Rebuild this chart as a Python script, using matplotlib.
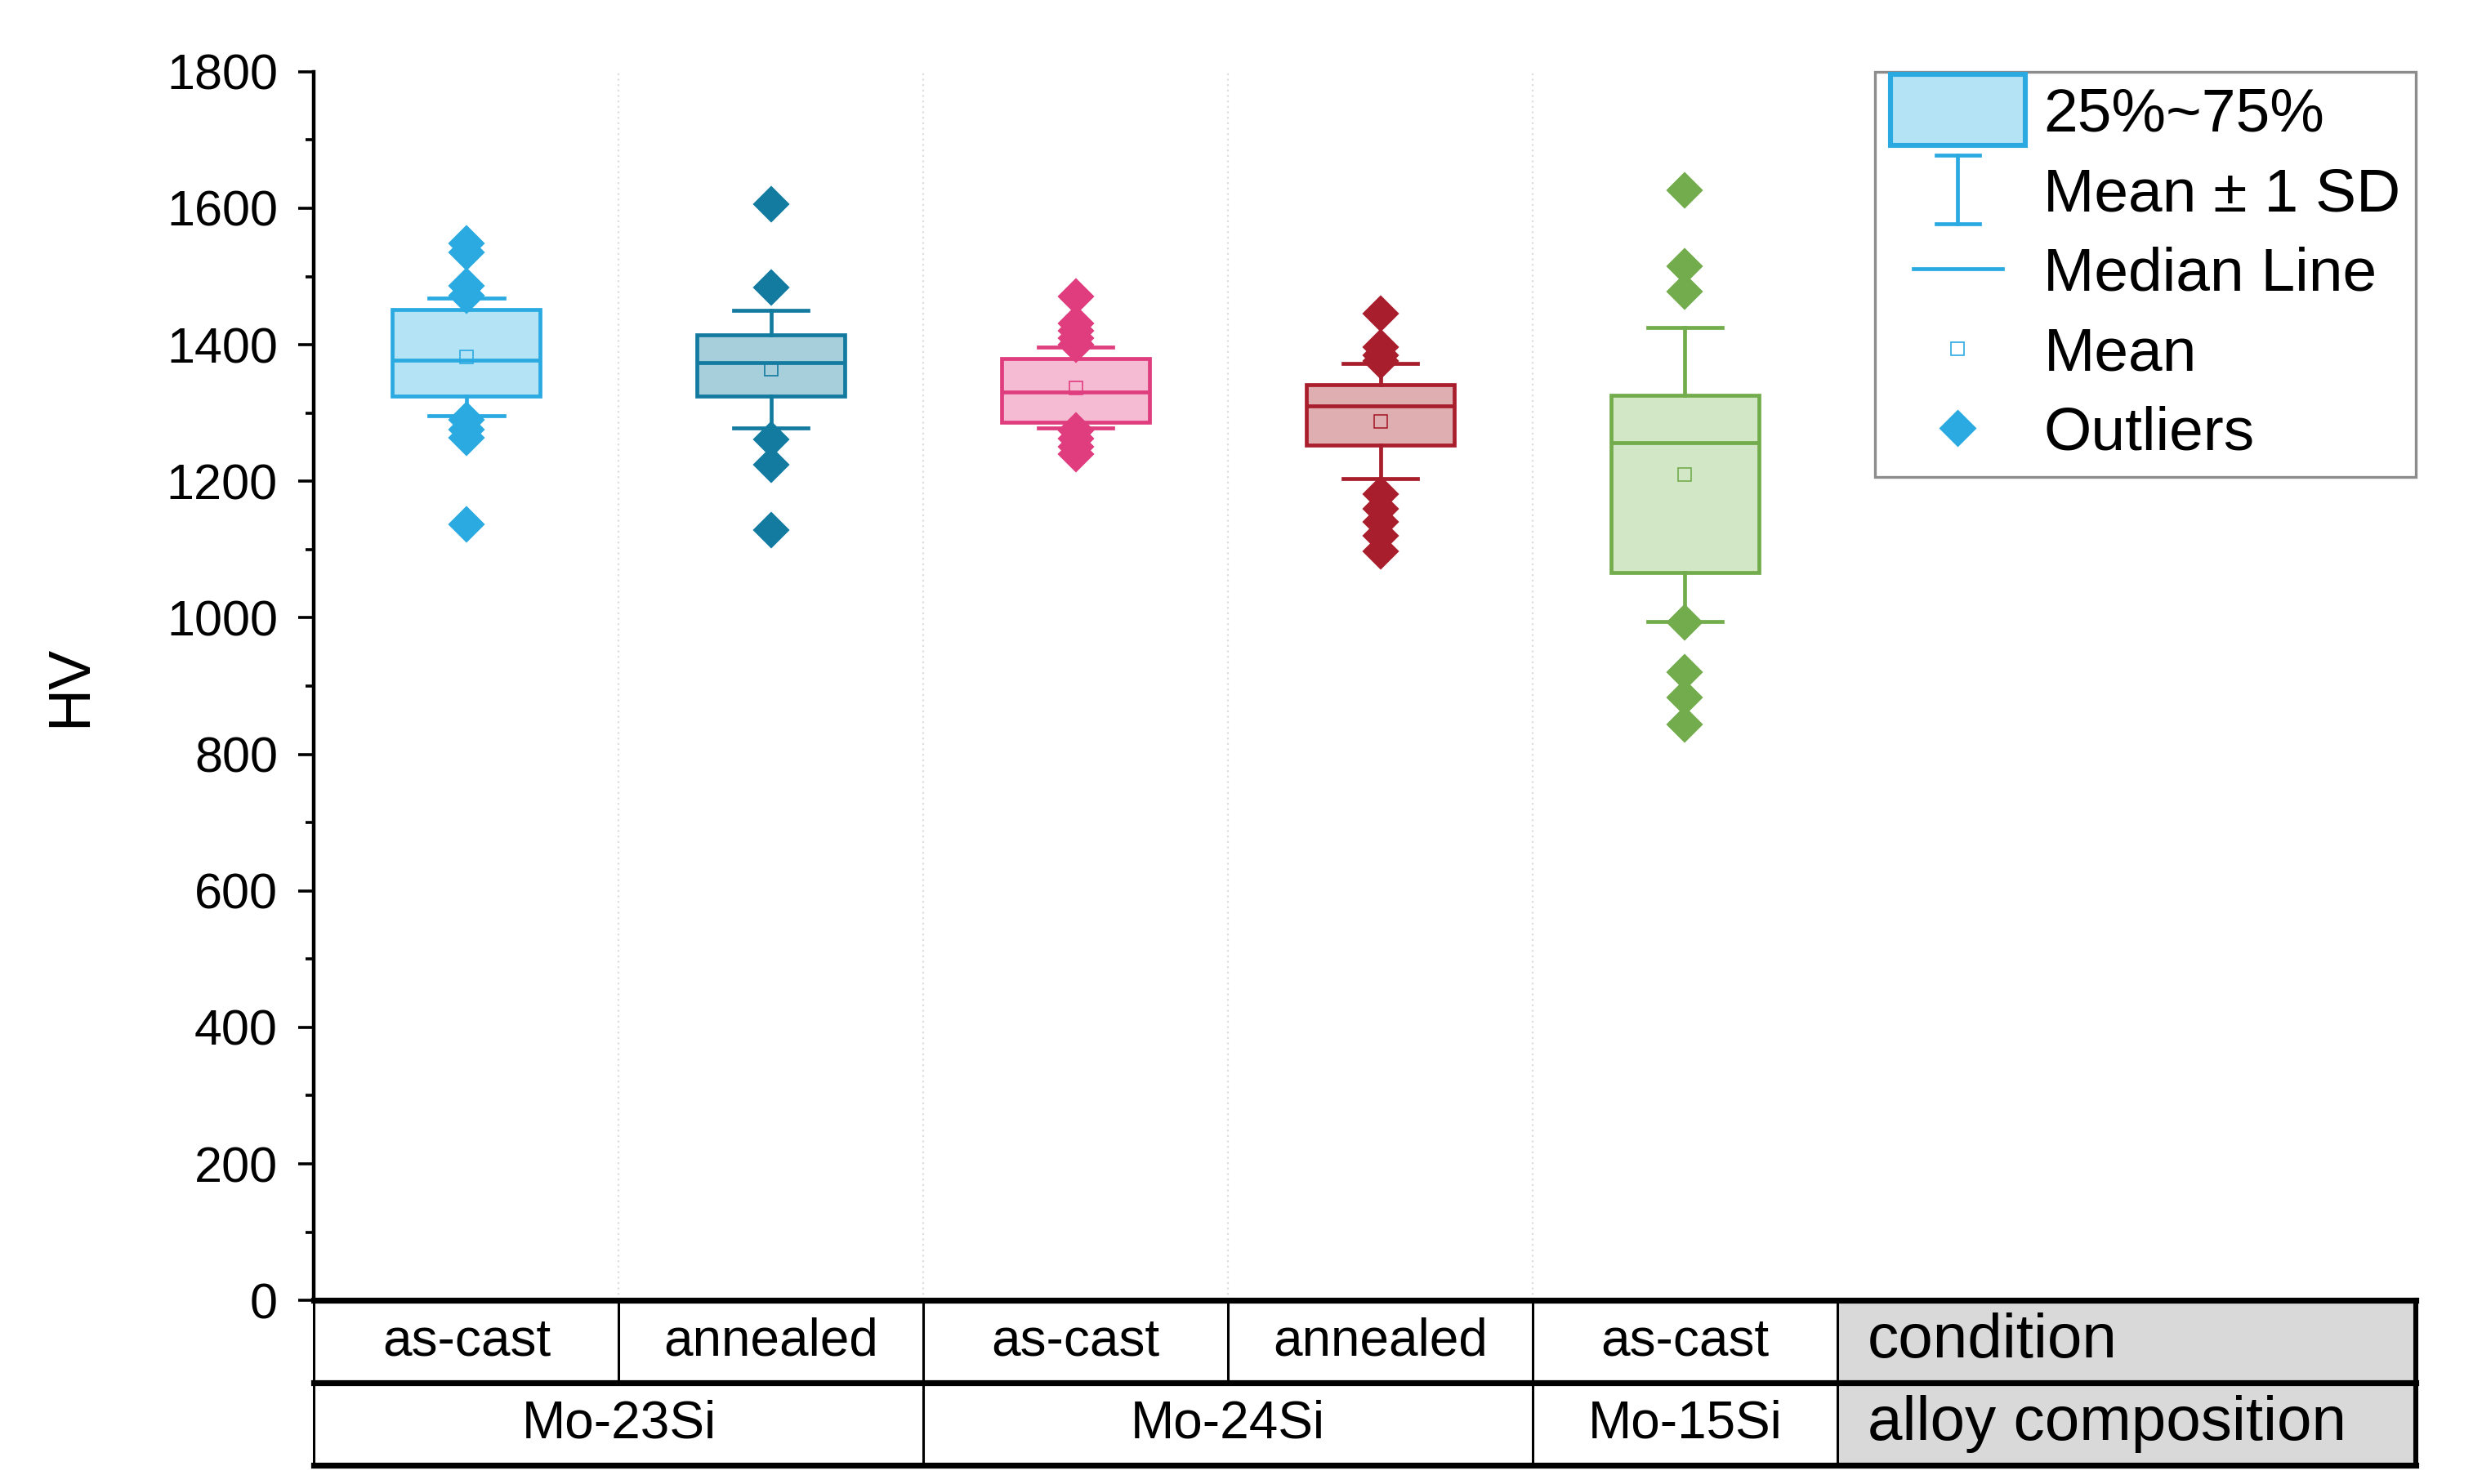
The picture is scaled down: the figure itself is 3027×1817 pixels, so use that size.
import numpy as np
import matplotlib
matplotlib.use("Agg")
import matplotlib.pyplot as plt
from matplotlib.patches import Rectangle
from matplotlib.lines import Line2D
from matplotlib.legend_handler import HandlerBase

plt.rcParams['font.family'] = ['Liberation Sans', 'DejaVu Sans']

# hardness data
conditions = ["as-cast", "annealed", "as-cast", "annealed", "as-cast"]
alloys = ["Mo-23Si", "Mo-24Si", "Mo-15Si"]
alloy_span = [2, 2, 1]
q1 = [1325, 1325, 1286, 1253, 1066]
median = [1377, 1374, 1331, 1310, 1257]
q3 = [1452, 1415, 1380, 1342, 1326]
mean = [1382, 1364, 1337, 1288, 1210]
sd = [86, 86, 59, 84, 215]
outliers = [
    [1548, 1535, 1486, 1472, 1290, 1276, 1264, 1137],
    [1606, 1484, 1261, 1224, 1128],
    [1471, 1431, 1420, 1410, 1400, 1274, 1262, 1250, 1240],
    [1445, 1396, 1385, 1376, 1181, 1160, 1140, 1120, 1098],
    [1626, 1515, 1478, 993, 920, 883, 844],
]
edge_colors = ["#2AAAE1", "#137BA0", "#E03D7F", "#A81E2C", "#72AC4D"]
fill_colors = ["#B4E3F5", "#A6CEDB", "#F4BBD3", "#DEAEB0", "#D2E7C6"]

legend_labels = ["25%~75%", "Mean \u00b1 1 SD", "Median Line", "Mean", "Outliers"]

fig = plt.figure(figsize=(15.135, 9.085), dpi=200)
ax = fig.add_axes([0.127, 0.1237, 0.85, 0.828])

# last column (row titles / legend) is wider than the data columns
x_right = 7.4

lw = 1.7
positions = np.arange(1, len(conditions) + 1)
for i, pos in enumerate(positions):
    st = dict(med=median[i], q1=q1[i], q3=q3[i], mean=mean[i],
              whislo=mean[i] - sd[i], whishi=mean[i] + sd[i],
              fliers=outliers[i])
    c = edge_colors[i]
    ax.bxp([st], positions=[pos], widths=0.485, capwidths=0.245,
           patch_artist=True, showmeans=True, showfliers=True,
           boxprops=dict(facecolor=fill_colors[i], edgecolor=c, linewidth=lw),
           medianprops=dict(color=c, linewidth=lw),
           whiskerprops=dict(color=c, linewidth=lw),
           capprops=dict(color=c, linewidth=lw),
           meanprops=dict(marker='s', markerfacecolor='none', markeredgecolor=c,
                          markersize=6, markeredgewidth=0.6),
           flierprops=dict(marker='D', markerfacecolor=c, markeredgecolor=c,
                           markersize=10.5, markeredgewidth=0.8))

# faint separators
for xv in [1.5, 2.5, 3.5, 4.5]:
    ax.axvline(xv, color="#DDDDDD", lw=0.8, ls=(0, (1, 2)), zorder=0)

ax.set_xlim(0.5, x_right)
ax.set_ylim(0, 1800)
ax.set_xticks([])
ax.set_yticks(np.arange(0, 1801, 200))
ax.set_yticks(np.arange(100, 1800, 200), minor=True)
for s in ["top", "right", "bottom"]:
    ax.spines[s].set_visible(False)
ax.spines["left"].set_linewidth(1.6)
ax.tick_params(axis='y', which='major', length=7, width=1.3, pad=9, labelsize=22)
ax.tick_params(axis='y', which='minor', length=3.6, width=1.3)
ax.set_ylabel("HV", fontsize=26, labelpad=30)


# legend handlers
class BoxHandler(HandlerBase):
    def create_artists(self, legend, orig_handle, xdescent, ydescent, width, height, fontsize, trans):
        h = height * 1.65
        r = Rectangle((-xdescent, -ydescent + height / 2 - h / 2), width, h,
                      facecolor=fill_colors[0], edgecolor=edge_colors[0], lw=2.2, transform=trans)
        return [r]


class IBeamHandler(HandlerBase):
    def create_artists(self, legend, orig_handle, xdescent, ydescent, width, height, fontsize, trans):
        xc = -xdescent + width / 2
        yc = -ydescent + height / 2
        hh = height * 0.8
        cw = width * 0.16
        c = edge_colors[0]
        a1 = Line2D([xc, xc], [yc - hh, yc + hh], color=c, lw=lw, transform=trans)
        a2 = Line2D([xc - cw, xc + cw], [yc + hh, yc + hh], color=c, lw=lw, transform=trans)
        a3 = Line2D([xc - cw, xc + cw], [yc - hh, yc - hh], color=c, lw=lw, transform=trans)
        return [a1, a2, a3]


class ShortLineHandler(HandlerBase):
    def create_artists(self, legend, orig_handle, xdescent, ydescent, width, height, fontsize, trans):
        yc = -ydescent + height / 2
        x0 = -xdescent + 0.17 * width
        x1 = -xdescent + 0.83 * width
        return [Line2D([x0, x1], [yc, yc], color=edge_colors[0], lw=lw, transform=trans)]


h_box = Rectangle((0, 0), 1, 1)
h_sd = Line2D([], [])
h_med = Line2D([], [], color=edge_colors[0], lw=lw)
h_mean = Line2D([], [], ls='none', marker='s', markerfacecolor='none',
                markeredgecolor=edge_colors[0], markersize=6, markeredgewidth=0.6)
h_out = Line2D([], [], ls='none', marker='D', color=edge_colors[0], markersize=10.5)

leg = ax.legend([h_box, h_sd, h_med, h_mean, h_out], legend_labels,
                handler_map={h_box: BoxHandler(), h_sd: IBeamHandler(), h_med: ShortLineHandler()},
                loc="upper right", bbox_to_anchor=(1.0, 1.0), borderaxespad=0,
                fontsize=27, handlelength=2.2, handletextpad=0.3, labelspacing=0.38,
                borderpad=0.25, fancybox=False, framealpha=1)
leg.get_frame().set_edgecolor("#8C8C8C")
leg.get_frame().set_linewidth(1.2)

# table below the axis
tb = fig.add_axes([0.127, 0.0129, 0.85, 0.1108])
tb.set_xlim(0.5, x_right)
tb.set_ylim(0, 2)
tb.axis("off")
ncol = len(conditions)
tb.add_patch(Rectangle((ncol + 0.5, 0), x_right - ncol - 0.5, 2,
                       facecolor="#D9D9D9", edgecolor="none"))
for yv in [0, 1, 2]:
    tb.plot([0.5, x_right], [yv, yv], color="black", lw=2.6, clip_on=False,
            solid_capstyle='projecting')
for k in range(ncol + 1):
    tb.plot([k + 0.5, k + 0.5], [1, 2], color="black", lw=1.1, clip_on=False)
edges = np.concatenate([[0], np.cumsum(alloy_span)]) + 0.5
for xv in edges:
    tb.plot([xv, xv], [0, 1], color="black", lw=1.1, clip_on=False)
tb.plot([x_right, x_right], [0, 2], color="black", lw=2.2, clip_on=False)

for i, c in enumerate(conditions):
    tb.text(i + 1, 1.5, c, ha="center", va="center", fontsize=23)
for j, a in enumerate(alloys):
    tb.text((edges[j] + edges[j + 1]) / 2, 0.5, a, ha="center", va="center", fontsize=23)
tb.text(ncol + 0.6, 1.5, "condition", ha="left", va="center", fontsize=27.5)
tb.text(ncol + 0.6, 0.5, "alloy composition", ha="left", va="center", fontsize=27.5)

fig.savefig("out.png", dpi=200)
